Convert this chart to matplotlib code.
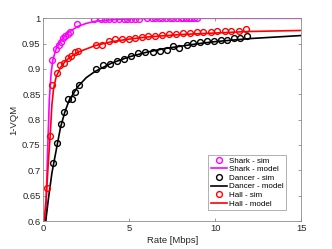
import matplotlib
matplotlib.use("Agg")
import matplotlib.pyplot as plt

# simulated points
shark_x = [0.52, 0.72, 0.89, 1.01, 1.15, 1.28, 1.41, 1.53, 1.98, 2.97,
           3.34, 3.6, 3.84, 4.11, 4.38, 4.69, 4.85, 5.08, 5.31, 5.58,
           6.01, 6.32, 6.51, 6.73, 6.92, 7.15, 7.37, 7.56, 7.76, 7.99,
           8.14, 8.30, 8.45, 8.6, 8.76, 8.92]
shark_y = [0.918, 0.939, 0.947, 0.953, 0.962, 0.966, 0.970, 0.972, 0.989, 0.998,
           0.998, 0.999, 0.999, 0.999, 0.999, 0.999, 0.999, 0.999, 0.999, 0.999,
           1.0, 1.0, 1.0, 1.0, 1.0, 1.0, 1.0, 1.0, 1.0, 1.0,
           1.0, 1.0, 1.0, 1.0, 1.0, 1.0]

dancer_x = [0.58, 0.81, 1.01, 1.22, 1.42, 1.65, 1.84, 2.06, 3.08, 3.49,
            3.88, 4.30, 4.71, 5.12, 5.52, 5.93, 6.36, 6.77, 7.17, 7.52,
            7.91, 8.34, 8.72, 9.11, 9.5, 9.92, 10.31, 10.7, 11.09, 11.45, 11.86]
dancer_y = [0.714, 0.753, 0.791, 0.816, 0.841, 0.841, 0.855, 0.868, 0.900, 0.907,
            0.909, 0.916, 0.920, 0.925, 0.932, 0.933, 0.934, 0.936, 0.937, 0.945,
            0.941, 0.947, 0.951, 0.953, 0.955, 0.955, 0.957, 0.957, 0.962, 0.962, 0.965]

hall_x = [0.2, 0.41, 0.52, 0.81, 0.99, 1.19, 1.42, 1.61, 1.83, 2.02,
          3.05, 3.41, 3.84, 4.19, 4.58, 4.98, 5.33, 5.72, 6.1, 6.51,
          6.9, 7.33, 7.72, 8.1, 8.53, 8.92, 9.3, 9.73, 10.12, 10.55,
          10.93, 11.36, 11.78]
hall_y = [0.666, 0.768, 0.868, 0.893, 0.907, 0.911, 0.922, 0.926, 0.933, 0.935,
          0.947, 0.947, 0.955, 0.959, 0.960, 0.959, 0.961, 0.964, 0.965, 0.966,
          0.968, 0.969, 0.970, 0.971, 0.971, 0.972, 0.973, 0.973, 0.974, 0.974,
          0.975, 0.975, 0.978]

# model curves, sampled by eye
shark_mx = [0.14, 0.2, 0.27, 0.35, 0.45, 0.55, 0.75, 1.0, 1.25, 1.5, 2, 2.5, 3, 4, 5, 7, 15]
shark_my = [0.6, 0.68, 0.76, 0.84, 0.89, 0.918, 0.94, 0.955, 0.965, 0.973, 0.984,
            0.99, 0.994, 0.997, 0.999, 1.0, 1.0]

dancer_mx = [0.14, 0.3, 0.5, 0.75, 1.0, 1.25, 1.5, 2, 2.5, 3, 4, 5, 6, 7, 8, 9, 10, 12, 15]
dancer_my = [0.6, 0.645, 0.695, 0.74, 0.785, 0.815, 0.838, 0.865, 0.883, 0.895, 0.912,
             0.924, 0.933, 0.94, 0.945, 0.95, 0.954, 0.96, 0.966]

hall_mx = [0.05, 0.15, 0.2, 0.3, 0.4, 0.5, 0.6, 0.75, 1.0, 1.25, 1.5, 2, 3, 4, 5, 6, 8, 10, 12, 15]
hall_my = [0.6, 0.64, 0.665, 0.72, 0.77, 0.83, 0.862, 0.885, 0.903, 0.914, 0.922, 0.933,
           0.946, 0.954, 0.959, 0.963, 0.968, 0.971, 0.974, 0.976]

yticks = [0.6, 0.65, 0.7, 0.75, 0.8, 0.85, 0.9, 0.95, 1]
ytick_labels = ["0.6", "0.65", "0.7", "0.75", "0.8", "0.85", "0.9", "0.95", "1"]
xticks = [0, 5, 10, 15]

plt.rcParams["font.family"] = ["Liberation Sans", "DejaVu Sans"]

fig = plt.figure(figsize=(3.32, 2.49), dpi=100)
ax = fig.add_axes([0.1305, 0.1124, 0.777, 0.8141])

ms = 4.2
ax.plot(shark_x, shark_y, "o", mfc="none", mec="#ff00ff", ms=ms, mew=1.0, label="Shark - sim")
ax.plot(shark_mx, shark_my, "-", color="#ff00ff", lw=1.2, label="Shark - model")
ax.plot(dancer_x, dancer_y, "o", mfc="none", mec="black", ms=ms, mew=1.0, label="Dancer - sim")
ax.plot(dancer_mx, dancer_my, "-", color="black", lw=1.2, label="Dancer - model")
ax.plot(hall_x, hall_y, "o", mfc="none", mec="red", ms=ms, mew=1.0, label="Hall - sim")
ax.plot(hall_mx, hall_my, "-", color="red", lw=1.2, label="Hall - model")

ax.set_xlim(0, 15)
ax.set_ylim(0.6, 1)
ax.set_xticks(xticks)
ax.set_yticks(yticks)
ax.set_yticklabels(ytick_labels)
ax.tick_params(direction="in", length=2.5, width=0.6, labelsize=6.8,
               colors="#8c8c8c", labelcolor="#262626", top=True, right=True, pad=2)
for s in ax.spines.values():
    s.set_color("#8c8c8c")
    s.set_linewidth(0.6)

ax.set_xlabel("Rate [Mbps]", fontsize=6.8, color="#262626", labelpad=2)
ax.set_ylabel("1-VQM", fontsize=6.8, color="#262626", labelpad=3)

leg = ax.legend(loc="lower right", bbox_to_anchor=(0.941, 0.054), fontsize=5.8,
                handlelength=2.0, handletextpad=0.3, labelspacing=0.12,
                borderpad=0.3, fancybox=False, frameon=True, borderaxespad=0)
leg.get_frame().set_edgecolor("#8c8c8c")
leg.get_frame().set_linewidth(0.6)

fig.savefig("out.png", dpi=100)
